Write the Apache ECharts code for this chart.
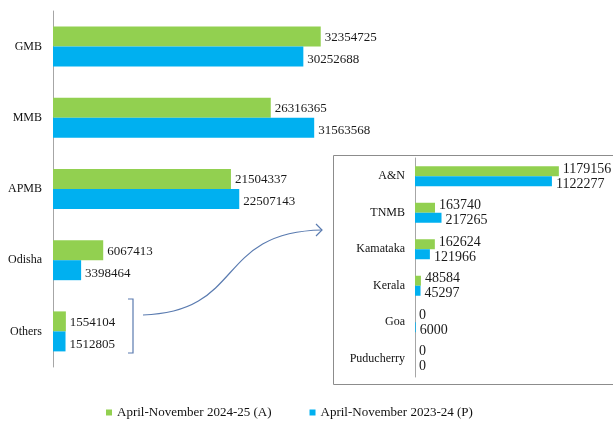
<!DOCTYPE html>
<html>
<head>
<meta charset="utf-8">
<script src="https://cdn.jsdelivr.net/npm/echarts@6/dist/echarts.min.js"></script>
<style>
  html, body { margin: 0; padding: 0; background: #fff; }
  #chart { width: 613px; height: 428px; }
</style>
</head>
<body>
<div id="chart"></div>
<script>
// Main ports
const mainPorts = ['GMB', 'MMB', 'APMB', 'Odisha', 'Others'];
const mainCurrent = [32354725, 26316365, 21504337, 6067413, 1554104];
const mainPrevious = [30252688, 31563568, 22507143, 3398464, 1512805];

// Break-up of "Others" (labels as printed in the picture)
const otherPorts = ['A&N', 'TNMB', 'Kamataka', 'Kerala', 'Goa', 'Puducherry'];
const otherCurrent = [1179156, 163740, 162624, 48584, 0, 0];
const otherPrevious = [1122277, 217265, 121966, 45297, 6000, 0];

const seriesNames = ['April-November 2024-25 (A)', 'April-November 2023-24 (P)'];

const GREEN = '#92d050';
const BLUE = '#00b0f0';
const FONT = '"Liberation Serif", "Times New Roman", serif';
const ARROW = '#5a7bb0';

const chart = echarts.init(document.getElementById('chart'));

const axisCommon = {
  axisLine: { lineStyle: { color: '#a6a6a6', width: 1 } },
  axisTick: { lineStyle: { color: '#a6a6a6' }, length: 4 },
  splitLine: { show: false }
};

const barLabel = (size, dy) => ({
  show: true,
  position: 'right',
  distance: 4,
  offset: [0, dy],
  color: '#1a1a1a',
  fontFamily: FONT,
  fontSize: size
});

const option = {
  animation: false,
  backgroundColor: '#fff',
  legend: {
    data: seriesNames,
    left: 101,
    top: 401,
    icon: 'rect',
    itemWidth: 6,
    itemHeight: 6,
    itemGap: 38,
    textStyle: { fontFamily: FONT, fontSize: 13, color: '#111' }
  },
  grid: [
    { left: 53, top: 11, bottom: 61, right: 229 },
    { left: 415, top: 158, bottom: 51, right: 15 }
  ],
  xAxis: [
    { gridIndex: 0, type: 'value', min: 0, max: 40000000, show: false },
    { gridIndex: 1, type: 'value', min: 0, max: 1500000, show: false }
  ],
  yAxis: [
    Object.assign({
      gridIndex: 0, type: 'category', data: mainPorts, inverse: true,
      axisLabel: { fontFamily: FONT, fontSize: 12, color: '#111', margin: 11 }
    }, axisCommon),
    Object.assign({
      gridIndex: 1, type: 'category', data: otherPorts, inverse: true,
      axisLabel: { fontFamily: FONT, fontSize: 12, color: '#111', margin: 10 }
    }, axisCommon)
  ],
  series: [
    {
      name: seriesNames[0], type: 'bar', xAxisIndex: 0, yAxisIndex: 0,
      data: mainCurrent, barWidth: 20, barGap: '0%',
      itemStyle: { color: GREEN }, label: barLabel(13, 1)
    },
    {
      name: seriesNames[1], type: 'bar', xAxisIndex: 0, yAxisIndex: 0,
      data: mainPrevious, barWidth: 20, barGap: '0%',
      itemStyle: { color: BLUE }, label: barLabel(13, 3)
    },
    {
      name: seriesNames[0], type: 'bar', xAxisIndex: 1, yAxisIndex: 1,
      data: otherCurrent, barWidth: 10, barGap: '0%',
      itemStyle: { color: GREEN }, label: barLabel(14, -2)
    },
    {
      name: seriesNames[1], type: 'bar', xAxisIndex: 1, yAxisIndex: 1,
      data: otherPrevious, barWidth: 10, barGap: '0%',
      itemStyle: { color: BLUE }, label: barLabel(14, 3)
    }
  ],
  graphic: [
    // inset frame
    {
      type: 'rect', z: -1, silent: true,
      shape: { x: 333.5, y: 155.5, width: 300, height: 229 },
      style: { fill: 'none', stroke: '#8c8c8c', lineWidth: 1 }
    },
    // bracket around "Others"
    {
      type: 'polyline', silent: true,
      shape: { points: [[128, 299], [133, 299], [133, 353], [128, 353]] },
      style: { fill: 'none', stroke: ARROW, lineWidth: 1.2 }
    },
    // curved arrow pointing to the inset
    {
      type: 'bezierCurve', silent: true,
      shape: { x1: 143, y1: 315, cpx1: 245, cpy1: 312, cpx2: 215, cpy2: 232, x2: 322, y2: 230 },
      style: { fill: 'none', stroke: ARROW, lineWidth: 1.2 }
    },
    {
      type: 'polyline', silent: true,
      shape: { points: [[316, 224], [322, 230], [316, 236]] },
      style: { fill: 'none', stroke: ARROW, lineWidth: 1.2 }
    }
  ]
};

chart.setOption(option);
</script>
</body>
</html>
